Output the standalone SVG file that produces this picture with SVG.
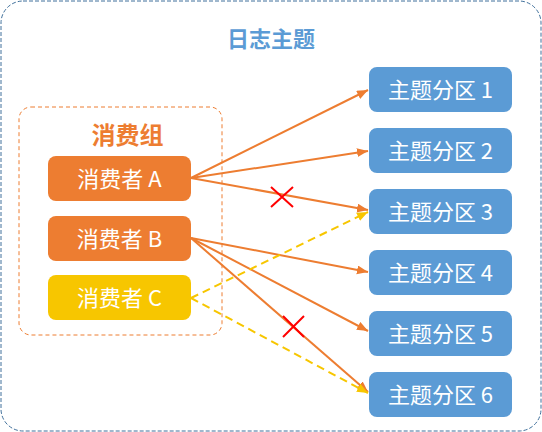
<svg xmlns="http://www.w3.org/2000/svg" width="542" height="432" viewBox="0 0 542 432">
<style>
.cjk{font-family:"Noto Sans CJK SC","Noto Sans",sans-serif;}
.part rect{fill:#5B9BD5;}
.part text,.cons text{fill:#fff;font-size:22px;text-anchor:middle;}
.orange{stroke:#ED7D31;stroke-width:2;fill:none;}
.yellow{stroke:#F7C600;stroke-width:2;fill:none;stroke-dasharray:8 5;}
.cross{stroke:#FF0000;stroke-width:2;fill:none;}
</style>
<defs>
<marker id="ao" markerUnits="userSpaceOnUse" markerWidth="12" markerHeight="10" refX="11" refY="4.5" orient="auto"><path d="M0,0 L11,4.5 L0,9 z" fill="#ED7D31"/></marker>
<marker id="ay" markerUnits="userSpaceOnUse" markerWidth="12" markerHeight="10" refX="11" refY="4.5" orient="auto"><path d="M0,0 L11,4.5 L0,9 z" fill="#F7C600"/></marker>
</defs>
<rect id="topic-frame" x="1" y="1" width="540" height="430" rx="22" fill="#fff" stroke="#41719C" stroke-width="1" stroke-dasharray="4 2"/>
<text class="cjk" x="271" y="47" font-size="22" font-weight="bold" fill="#5B9BD5" text-anchor="middle">日志主题</text>
<g id="consumer-group">
<rect x="19" y="107" width="203" height="228" rx="12" fill="none" stroke="#ED7D31" stroke-width="1" stroke-dasharray="4 3"/>
<text class="cjk" x="127.5" y="144" font-size="24" font-weight="bold" fill="#ED7D31" text-anchor="middle">消费组</text>
</g>
<g id="consumer-a" class="cons cjk"><rect x="48" y="156" width="143" height="45" rx="8" fill="#ED7D31"/><text x="119.5" y="187">消费者 A</text></g>
<g id="consumer-b" class="cons cjk"><rect x="48" y="216" width="143" height="45" rx="8" fill="#ED7D31"/><text x="119.5" y="247">消费者 B</text></g>
<g id="consumer-c" class="cons cjk"><rect x="48" y="275" width="143" height="45" rx="8" fill="#F7C600"/><text x="119.5" y="306">消费者 C</text></g>
<g id="partition-1" class="part cjk"><rect x="369" y="67" width="143" height="45" rx="8"/><text x="440.5" y="97.5">主题分区 1</text></g>
<g id="partition-2" class="part cjk"><rect x="369" y="128" width="143" height="45" rx="8"/><text x="440.5" y="158.5">主题分区 2</text></g>
<g id="partition-3" class="part cjk"><rect x="369" y="189" width="143" height="45" rx="8"/><text x="440.5" y="219.5">主题分区 3</text></g>
<g id="partition-4" class="part cjk"><rect x="369" y="250" width="143" height="45" rx="8"/><text x="440.5" y="280.5">主题分区 4</text></g>
<g id="partition-5" class="part cjk"><rect x="369" y="311" width="143" height="45" rx="8"/><text x="440.5" y="341.5">主题分区 5</text></g>
<g id="partition-6" class="part cjk"><rect x="369" y="372" width="143" height="45" rx="8"/><text x="440.5" y="402.5">主题分区 6</text></g>
<g id="connectors">
<line class="orange" x1="191" y1="178" x2="368" y2="90" marker-end="url(#ao)"/>
<line class="orange" x1="191" y1="178" x2="368" y2="151" marker-end="url(#ao)"/>
<line class="orange" x1="191" y1="178" x2="368" y2="210" marker-end="url(#ao)"/>
<line class="orange" x1="191" y1="238" x2="368" y2="272" marker-end="url(#ao)"/>
<line class="orange" x1="191" y1="238" x2="368" y2="331" marker-end="url(#ao)"/>
<line class="orange" x1="191" y1="238" x2="368" y2="392" marker-end="url(#ao)"/>
<line class="yellow" x1="191" y1="298" x2="368" y2="212" marker-end="url(#ay)"/>
<line class="yellow" x1="191" y1="298" x2="368" y2="393" marker-end="url(#ay)"/>
<path class="cross" d="M271,187 L293,207 M293,187 L271,207"/>
<path class="cross" d="M283,316 L304,337 M304,316 L283,337"/>
</g>
</svg>
